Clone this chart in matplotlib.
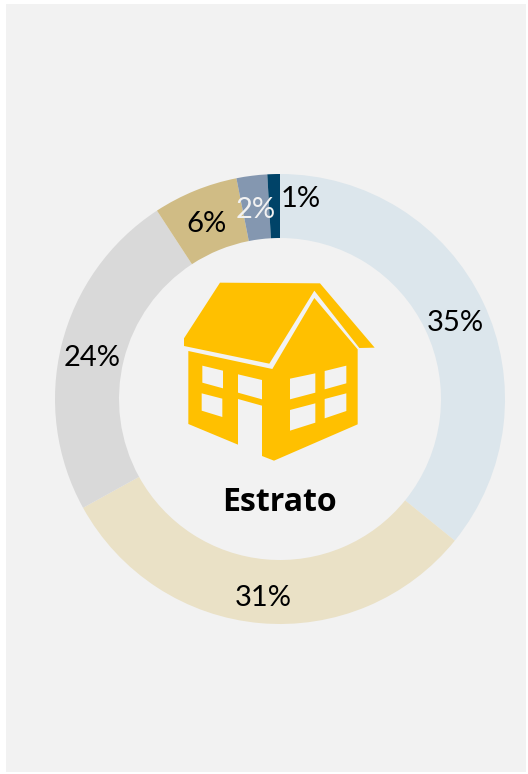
import matplotlib
matplotlib.use('Agg')
import matplotlib.pyplot as plt
from matplotlib.patches import Polygon, Rectangle

W, H = 528, 774
BG = '#f2f2f2'
HOUSE = '#ffc000'

# clockwise from 12 o'clock
shares = [35.8, 31.1, 23.8, 6.1, 2.2, 0.9]
labels = ['35%', '31%', '24%', '6%', '2%', '1%']
colors = ['#dce6ec', '#eae1c6', '#d9d9d9', '#d0bc85', '#8497b0', '#004368']
label_colors = ['black', 'black', 'black', 'black', '#f2f2f2', 'black']
label_pos = [(455, 323), (263, 598), (92, 358), (207, 224), (256, 210), (301, 199)]

roof = [(42, 205), (150, 38), (450, 40), (614, 233), (568, 234), (433, 62), (298, 281), (42, 228)]
body = [(55, 243), (307, 297), (433, 84), (563, 238), (563, 463), (312, 572), (276, 558),
        (276, 407), (204, 387), (204, 524), (55, 462)]
windows = [
    [(97, 287), (159, 302), (159, 355), (97, 338)],
    [(95, 370), (157, 386), (157, 441), (95, 422)],
    [(204, 313), (276, 330), (276, 388), (204, 368)],
    [(360, 326), (436, 310), (436, 368), (360, 388)],
    [(464, 303), (529, 287), (529, 340), (464, 358)],
    [(360, 420), (436, 400), (436, 458), (360, 482)],
    [(464, 387), (529, 370), (529, 423), (464, 445)],
]


def icon(points):
    return [(170 + x / 3, H - (270 + y / 3)) for x, y in points]


fig = plt.figure(figsize=(W / 100, H / 100), dpi=100, facecolor='white')
ax = fig.add_axes([0, 0, 1, 1])

ax.add_patch(Rectangle((6, H - 772), 520, 768, facecolor=BG, edgecolor='none', zorder=0))

ax.pie(shares, colors=colors, startangle=90, counterclock=False, center=(280, H - 399),
       radius=225, wedgeprops={'width': 64, 'linewidth': 0}, frame=True)
ax.set_xlim(0, W)
ax.set_ylim(0, H)
ax.set_aspect('equal')
ax.axis('off')

for lab, col, (x, y) in zip(labels, label_colors, label_pos):
    ax.text(x, H - y, lab, color=col, fontsize=21, family='Lato',
            ha='center', va='center', zorder=5)

ax.add_patch(Polygon(icon(body), facecolor=HOUSE, edgecolor='none', zorder=3))
ax.add_patch(Polygon(icon(roof), facecolor=HOUSE, edgecolor='none', zorder=3))
for w in windows:
    ax.add_patch(Polygon(icon(w), facecolor=BG, edgecolor='none', zorder=4))

ax.text(279.5, H - 502.5, 'Estrato', color='black', fontsize=23, family='Open Sans', fontweight='bold',
        ha='center', va='center', zorder=5)

fig.savefig('out.png', dpi=100)
